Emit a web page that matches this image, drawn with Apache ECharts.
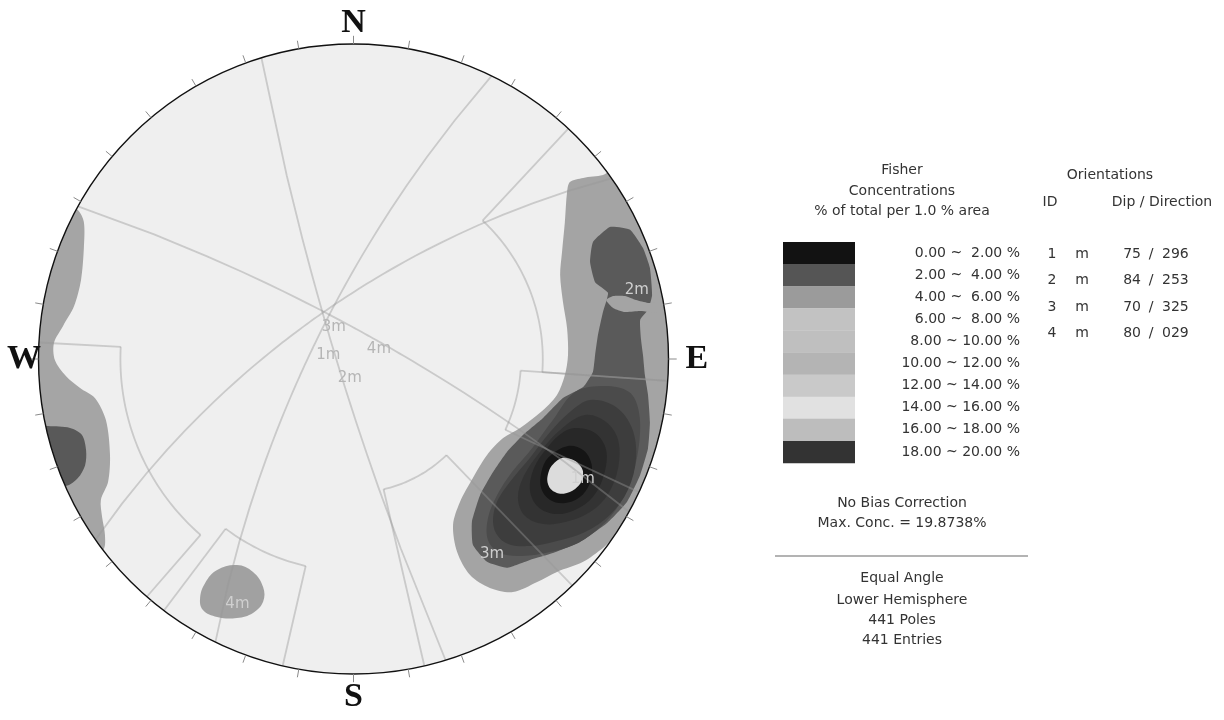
<!DOCTYPE html>
<html><head><meta charset="utf-8">
<script src="https://cdn.jsdelivr.net/npm/echarts@6/dist/echarts.min.js"></script>
<style>html,body{margin:0;padding:0;background:#fff}#c{width:1224px;height:720px}</style>
</head><body><div id="c"></div>
<script>
// ---------------- DATA ----------------
// Mean set orientations (Dip / Dip direction)
const setIds = ['1', '2', '3', '4'];
const setDip = [75, 84, 70, 80];
const setDir = [296, 253, 325, 29];

// Set windows (trend range, plunge range), degrees
const winTrendMin = [221, 193, 43, 94, 136];
const winTrendMax = [273, 217, 94, 115, 167];
const winPlungeMin = [0, 0, 0, 0, 0];
const winPlungeMax = [17, 22, 28, 34, 44];

// Legend classes
const legendLabels = ['0.00 ~  2.00 %', '2.00 ~  4.00 %', '4.00 ~  6.00 %', '6.00 ~  8.00 %', '8.00 ~ 10.00 %',
  '10.00 ~ 12.00 %', '12.00 ~ 14.00 %', '14.00 ~ 16.00 %', '16.00 ~ 18.00 %', '18.00 ~ 20.00 %'];
const legendColors = ['#121212', '#555555', '#9b9b9b', '#c2c2c2', '#bfbfbf', '#b4b4b4', '#c9c9c9', '#e1e1e1', '#bdbdbd', '#333333'];

// Contour polygons, projected net coordinates (net radius = 100)
const eastOuter = [[82.1,60.0],[79.2,58.4],[72.9,57.5],[68.7,56.2],[67.8,53.0],[67.1,43.5],[66.2,34.0],[65.6,26.7],[66.5,18.1],[67.8,9.8],[68.1,1.3],[67.1,-5.1],[64.6,-11.4],[59.2,-17.1],[52.9,-21.9],[47.5,-25.1],[42.4,-30.5],[37.9,-37.8],[33.8,-45.4],[31.6,-52.7],[32.9,-61.3],[37.0,-68.6],[43.3,-72.7],[50.6,-74.0],[58.3,-70.8],[64.6,-67.6],[72.9,-64.4],[79.2,-60.0],[84.0,-56.2],[91.0,-59.0],[103.7,-28.9],[106.8,2.9],[103.7,34.6],[91.0,60.0]];
const eastDark = [[81.4,41.9],[87.8,41.0],[91.9,35.2],[94.1,28.9],[94.8,20.3],[93.5,15.6],[91.0,12.4],[91.3,6.0],[91.9,1.3],[92.5,-5.1],[93.5,-11.4],[94.1,-20.0],[93.5,-28.3],[91.0,-36.8],[86.8,-45.4],[80.5,-52.1],[71.9,-58.1],[63.3,-61.6],[56.0,-63.8],[48.7,-66.3],[42.4,-64.4],[37.9,-59.0],[37.6,-51.7],[40.2,-43.2],[44.3,-35.9],[48.7,-29.5],[53.8,-24.1],[60.2,-18.7],[66.5,-12.4],[72.9,-8.9],[76.0,-4.1],[76.7,1.3],[77.6,7.6],[79.2,14.9],[80.8,21.0],[76.7,24.4],[75.1,30.8],[76.0,37.1]];
const eastNotch = [[80.2,18.7],[82.4,20.0],[86.2,20.0],[89.7,18.7],[93.5,17.8],[97.3,17.8],[97.9,14.6],[91.0,15.2],[86.2,14.9],[82.4,16.2]];
const peakBand1 = [[70.3,-10.5],[79.8,-8.6],[87.5,-10.5],[90.5,-16.2],[90.8,-25.7],[88.6,-36.8],[84.5,-46.0],[78.5,-53.2],[71.3,-58.4],[62.4,-61.3],[53.5,-62.5],[46.5,-61.6],[42.7,-57.5],[42.7,-50.5],[45.6,-43.2],[50.3,-35.9],[56.7,-28.3],[63.3,-19.4]];
const peakBand2 = [[75.1,-13.0],[83.3,-15.2],[88.4,-21.9],[89.7,-31.4],[87.1,-41.6],[81.4,-49.5],[73.5,-54.9],[64.6,-57.8],[56.0,-59.4],[48.4,-58.4],[44.6,-53.7],[45.2,-46.3],[49.7,-39.0],[56.0,-31.4],[62.4,-23.2],[68.7,-16.8]];
const peakBand3 = [[73.5,-17.8],[80.2,-20.0],[84.0,-25.7],[84.0,-34.6],[80.8,-42.9],[75.1,-48.6],[67.5,-51.7],[60.2,-52.4],[54.4,-49.8],[52.2,-44.1],[54.1,-37.1],[59.2,-29.5],[65.6,-22.5]];
const peakBand4 = [[70.3,-21.9],[76.7,-23.5],[80.2,-28.9],[79.5,-36.8],[76.0,-43.8],[70.3,-47.9],[64.0,-49.2],[58.6,-47.0],[56.0,-41.6],[57.3,-34.6],[61.7,-27.9],[66.2,-23.5]];
const peakRing = [[68.1,-27.6],[73.0,-29.0],[75.6,-33.5],[75.0,-39.5],[71.7,-44.0],[66.8,-45.8],[62.3,-44.7],[59.6,-41.1],[59.6,-36.0],[61.9,-31.2]];
const peakCore = [[66.2,-31.4],[70.4,-32.4],[72.8,-35.4],[72.2,-39.2],[69.5,-41.8],[65.6,-42.8],[62.6,-41.3],[61.5,-38.3],[62.7,-34.2]];
const westOuter = [[-87.5,47.3],[-85.6,43.5],[-85.6,35.2],[-86.5,25.1],[-88.7,16.8],[-92.2,10.5],[-95.1,5.1],[-94.8,-0.3],[-91.3,-5.4],[-86.8,-9.2],[-82.1,-12.4],[-78.6,-19.4],[-77.3,-30.5],[-77.9,-39.0],[-80.2,-44.8],[-79.8,-50.2],[-78.9,-55.9],[-79.5,-60.6],[-86.8,-62.5],[-105.9,-28.9],[-109.0,2.9],[-102.7,34.6],[-92.5,50.5]];
const westDark = [[-97.0,-21.3],[-90.0,-21.9],[-86.2,-24.1],[-84.9,-28.9],[-85.2,-33.7],[-87.5,-37.8],[-91.3,-40.3],[-101.1,-38.4],[-102.7,-21.0]];
const southWest = [[-43.3,-67.0],[-37.0,-65.4],[-31.9,-67.6],[-28.7,-72.4],[-28.7,-77.1],[-31.9,-80.6],[-37.0,-82.2],[-43.3,-81.9],[-47.8,-79.7],[-48.7,-75.9],[-47.1,-71.1]];

const contourShapes = [eastOuter, eastDark, eastNotch, peakBand1, peakBand2, peakBand3, peakBand4, peakRing, peakCore, westOuter, westDark, southWest];

// ---------------- STYLE ----------------
const contourFill = ['#a4a4a4', '#5a5a5a', '#a4a4a4', '#4b4b4b', '#3d3d3d', '#333333', '#282828', '#151515', '#dcdcdc', '#a5a5a5', '#595959', '#a1a1a1'];
const contourSmooth = [0.3, 0.15, 0.2, 0.35, 0.35, 0.35, 0.35, 0.35, 0.3, 0.3, 0.3, 0.4];
const compass = ['N', 'E', 'S', 'W'];
const compassAz = [0, 90, 180, 270];
const compassDist = [106.6, 109, 107.5, 104.6];
const lineColor = 'rgba(150,150,150,0.42)';
const labelFont = '15px "DejaVu Sans"';
const txtFont = '14px "DejaVu Sans"';

// ---------------- GEOMETRY (equal angle, lower hemisphere) ----------------
const D2R = Math.PI / 180;
function proj(trend, plunge) {
  const r = 100 * Math.tan((90 - plunge) / 2 * D2R);
  return [r * Math.sin(trend * D2R), r * Math.cos(trend * D2R)];
}
function greatCircle(dip, dir) {
  const pts = [];
  for (let b = -90; b <= 90; b += 3) {
    const pl = Math.atan(Math.tan(dip * D2R) * Math.cos(b * D2R)) / D2R;
    pts.push(proj(dir + b, Math.max(0, pl)));
  }
  return pts;
}
function windowPaths(i) {
  const t0 = winTrendMin[i], t1 = winTrendMax[i], p0 = winPlungeMin[i], p1 = winPlungeMax[i];
  const arc = [];
  for (let t = t0; t <= t1; t += 1) arc.push(proj(t, p1));
  const paths = [arc, [proj(t0, p1), proj(t0, p0)], [proj(t1, p1), proj(t1, p0)]];
  if (p0 > 0) { const a2 = []; for (let t = t0; t <= t1; t += 1) a2.push(proj(t, p0)); paths.push(a2); }
  return paths;
}

const chart = echarts.init(document.getElementById('c'));
const one = [[0, 0]];

const series = [
  { // net background
    type: 'custom', z: 1, silent: true, clip: false, data: one,
    renderItem: (p, api) => {
      const c = api.coord([0, 0]); const r = api.size([100, 100])[0];
      return { type: 'circle', shape: { cx: c[0], cy: c[1], r: r }, style: { fill: '#efefef' } };
    }
  },
  { // contours
    type: 'custom', z: 2, silent: true, clip: false,
    data: contourShapes.map(() => [0, 0]),
    renderItem: (p, api) => {
      const i = p.dataIndex;
      return { type: 'polygon', shape: { points: contourShapes[i].map(q => api.coord(q)), smooth: contourSmooth[i] },
        style: { fill: contourFill[i] } };
    }
  },
  { // great circles of mean planes
    type: 'custom', z: 3, silent: true, clip: false,
    data: setDip.map(() => [0, 0]),
    renderItem: (p, api) => {
      const i = p.dataIndex;
      return { type: 'polyline', shape: { points: greatCircle(setDip[i], setDir[i]).map(q => api.coord(q)) },
        style: { fill: null, stroke: lineColor, lineWidth: 1.8 } };
    }
  },
  { // set windows
    type: 'custom', z: 3, silent: true, clip: false,
    data: winTrendMin.map(() => [0, 0]),
    renderItem: (p, api) => {
      const paths = windowPaths(p.dataIndex);
      return { type: 'group', children: paths.map(pp => ({ type: 'polyline', shape: { points: pp.map(q => api.coord(q)) },
        style: { fill: null, stroke: lineColor, lineWidth: 1.8 } })) };
    }
  },
  { // mask, outline, ticks
    type: 'custom', z: 4, silent: true, clip: false, data: one,
    renderItem: (p, api) => {
      const c = api.coord([0, 0]); const r = api.size([100, 100])[0];
      const ch = [
        { type: 'circle', shape: { cx: c[0], cy: c[1], r: r * 1.1 }, style: { fill: null, stroke: '#ffffff', lineWidth: r * 0.2 } },
        { type: 'circle', shape: { cx: c[0], cy: c[1], r: r }, style: { fill: null, stroke: '#111111', lineWidth: 1.4 } }
      ];
      for (let a = 0; a < 360; a += 10) {
        const s = Math.sin(a * D2R), k = Math.cos(a * D2R);
        const p1 = api.coord([100 * s, 100 * k]), p2 = api.coord([102.6 * s, 102.6 * k]);
        ch.push({ type: 'line', shape: { x1: p1[0], y1: p1[1], x2: p2[0], y2: p2[1] }, style: { stroke: '#8a8a8a', lineWidth: 1 } });
      }
      return { type: 'group', children: ch };
    }
  },
  { // labels
    type: 'custom', z: 5, silent: true, clip: false, data: one,
    renderItem: (p, api) => {
      const ch = [];
      for (let i = 0; i < setIds.length; i++) {
        const dv = api.coord(proj(setDir[i], setDip[i]));
        ch.push({ type: 'text', x: dv[0], y: dv[1] + 14, style: { text: setIds[i] + 'm', fill: '#b5b5b5', font: labelFont, align: 'left', verticalAlign: 'middle' } });
        const pl = api.coord(proj((setDir[i] + 180) % 360, 90 - setDip[i]));
        ch.push({ type: 'text', x: pl[0], y: pl[1] + 14, style: { text: setIds[i] + 'm', fill: '#cfcfcf', font: labelFont, align: 'left', verticalAlign: 'middle' } });
      }
      for (let i = 0; i < compass.length; i++) {
        const q = api.coord([compassDist[i] * Math.sin(compassAz[i] * D2R), compassDist[i] * Math.cos(compassAz[i] * D2R)]);
        ch.push({ type: 'text', x: q[0], y: q[1], style: { text: compass[i], fill: '#111', font: 'bold 34px "Liberation Serif"', align: 'center', verticalAlign: 'middle' } });
      }
      return { type: 'group', children: ch };
    }
  }
];

// ---------------- RIGHT PANEL (graphic) ----------------
function T(text, x, y, align, extra) {
  return Object.assign({ type: 'text', x: x, y: y, silent: true,
    style: { text: text, fill: '#333', font: txtFont, align: align || 'center', verticalAlign: 'middle', textAlign: align || 'center', textVerticalAlign: 'middle' } }, extra || {});
}
const g = [];
g.push(T('Fisher', 902, 170), T('Concentrations', 902, 191), T('% of total per 1.0 % area', 902, 211));
const swX = 783, swY = 242, swW = 72, swH = 22.1;
legendLabels.forEach((lab, i) => {
  g.push({ type: 'rect', silent: true, shape: { x: swX, y: swY + i * swH, width: swW, height: swH + 0.3 }, style: { fill: legendColors[i] } });
  g.push(T(lab, 1020, swY + 11 + i * swH, 'right'));
});
g.push(T('Orientations', 1110, 175), T('ID', 1050, 202), T('Dip / Direction', 1162, 202));
setIds.forEach((id, i) => {
  const y = 254 + i * 26.5;
  g.push(T(id, 1052, y), T('m', 1082, y), T(String(setDip[i]), 1141, y, 'right'), T('/', 1151, y), T(String(setDir[i]).padStart(3, '0'), 1162, y, 'left'));
});
g.push(T('No Bias Correction', 902, 503), T('Max. Conc. = 19.8738%', 902, 523));
g.push({ type: 'line', silent: true, shape: { x1: 775, y1: 556, x2: 1028, y2: 556 }, style: { stroke: '#9a9a9a', lineWidth: 1.5 } });
g.push(T('Equal Angle', 902, 578), T('Lower Hemisphere', 902, 600), T('441 Poles', 902, 620), T('441 Entries', 902, 640));

chart.setOption({
  animation: false,
  backgroundColor: '#ffffff',
  grid: { left: 38.5, top: 44, width: 630, height: 630 },
  xAxis: { type: 'value', min: -100, max: 100, show: false },
  yAxis: { type: 'value', min: -100, max: 100, show: false },
  series: series,
  graphic: { elements: g }
});
</script>
</body></html>
